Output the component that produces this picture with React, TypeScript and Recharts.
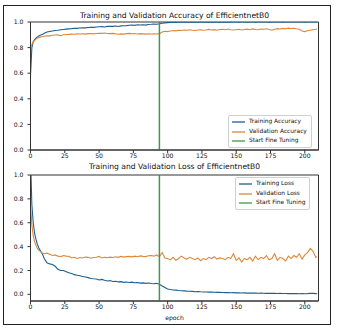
import React from "react";
import { LineChart, Line, XAxis, YAxis, ReferenceLine, ReferenceArea } from "recharts";

// epochs sampled: every epoch for the first 10, then every 2nd
const epochs = [
  0, 1, 2, 3, 4, 5, 6, 7, 8, 9,
  10, 12, 14, 16, 18, 20, 22, 24, 26, 28,
  30, 32, 34, 36, 38, 40, 42, 44, 46, 48,
  50, 52, 54, 56, 58, 60, 62, 64, 66, 68,
  70, 72, 74, 76, 78, 80, 82, 84, 86, 88,
  90, 92, 94, 96, 98, 100, 102, 104, 106, 108,
  110, 112, 114, 116, 118, 120, 122, 124, 126, 128,
  130, 132, 134, 136, 138, 140, 142, 144, 146, 148,
  150, 152, 154, 156, 158, 160, 162, 164, 166, 168,
  170, 172, 174, 176, 178, 180, 182, 184, 186, 188,
  190, 192, 194, 196, 198, 200, 202, 204, 206, 208,
  209,
];

const trainAcc = [
  0.58, 0.8, 0.845, 0.862, 0.874, 0.884, 0.89, 0.896, 0.9, 0.905,
  0.912, 0.922, 0.926, 0.93, 0.933, 0.936, 0.94, 0.942, 0.944, 0.946,
  0.948, 0.951, 0.95, 0.953, 0.955, 0.954, 0.957, 0.959, 0.958, 0.961,
  0.963, 0.964, 0.961, 0.966, 0.967, 0.966, 0.969, 0.965, 0.97, 0.971,
  0.972, 0.975, 0.976, 0.974, 0.978, 0.977, 0.979, 0.976, 0.981, 0.982,
  0.984, 0.983, 0.986, 0.99, 0.993, 0.995, 0.996, 0.997, 0.997, 0.998,
  0.998, 0.998, 0.999, 0.999, 0.999, 0.998, 0.999, 0.999, 0.999, 0.999,
  0.999, 0.999, 0.999, 0.999, 1.0, 0.999, 0.999, 1.0, 0.999, 1.0,
  1.0, 0.999, 1.0, 1.0, 0.999, 1.0, 1.0, 0.999, 1.0, 1.0,
  1.0, 1.0, 0.999, 1.0, 1.0, 1.0, 1.0, 0.999, 1.0, 1.0,
  1.0, 1.0, 1.0, 1.0, 1.0, 0.999, 1.0, 1.0, 1.0, 1.0,
  1.0,
];

const valAcc = [
  0.8, 0.825, 0.845, 0.857, 0.866, 0.873, 0.878, 0.882, 0.885, 0.887,
  0.889, 0.893, 0.892, 0.896, 0.898, 0.899, 0.893, 0.9, 0.902, 0.903,
  0.905, 0.904, 0.907, 0.906, 0.908, 0.905, 0.909, 0.91, 0.907, 0.91,
  0.912, 0.911, 0.914, 0.91, 0.909, 0.911, 0.908, 0.904, 0.907, 0.905,
  0.909, 0.911, 0.908, 0.91, 0.906, 0.909, 0.907, 0.905, 0.908, 0.906,
  0.908, 0.906, 0.909, 0.922, 0.928, 0.925, 0.93, 0.933, 0.931, 0.936,
  0.934, 0.937, 0.935, 0.939, 0.936, 0.934, 0.938, 0.94, 0.936, 0.938,
  0.942, 0.937, 0.94, 0.936, 0.941, 0.943, 0.939, 0.945, 0.94, 0.937,
  0.94, 0.943, 0.938, 0.942, 0.944, 0.94, 0.946, 0.942, 0.939, 0.945,
  0.943, 0.947, 0.941, 0.936, 0.944, 0.948, 0.945, 0.95, 0.947, 0.952,
  0.949, 0.951, 0.947, 0.944, 0.93, 0.925, 0.932, 0.936, 0.94, 0.943,
  0.946,
];

const trainLoss = [
  1.15, 0.75, 0.6, 0.51, 0.46, 0.42, 0.39, 0.37, 0.35, 0.33,
  0.3, 0.265, 0.255, 0.25, 0.235, 0.21, 0.2, 0.2, 0.19, 0.18,
  0.175, 0.165, 0.16, 0.155, 0.15, 0.145, 0.14, 0.133, 0.13, 0.128,
  0.12, 0.125, 0.118, 0.112, 0.115, 0.108, 0.11, 0.104, 0.106, 0.1,
  0.103, 0.099, 0.102, 0.097, 0.099, 0.094, 0.096, 0.092, 0.095, 0.09,
  0.088, 0.092, 0.085, 0.07, 0.058, 0.045, 0.04, 0.036, 0.035, 0.032,
  0.03, 0.029, 0.027, 0.026, 0.025, 0.022, 0.024, 0.021, 0.02, 0.019,
  0.018, 0.019, 0.017, 0.016, 0.017, 0.015, 0.014, 0.015, 0.013, 0.014,
  0.012, 0.013, 0.011, 0.012, 0.01, 0.011, 0.01, 0.01, 0.009, 0.01,
  0.009, 0.008, 0.009, 0.008, 0.008, 0.007, 0.008, 0.007, 0.007, 0.006,
  0.007, 0.006, 0.006, 0.005, 0.006, 0.005, 0.006, 0.009, 0.008, 0.006,
  0.005,
];

const valLoss = [
  0.75, 0.58, 0.49, 0.44, 0.41, 0.385, 0.37, 0.36, 0.35, 0.345,
  0.34, 0.345, 0.335, 0.325, 0.33, 0.32, 0.315, 0.325, 0.32, 0.318,
  0.305, 0.31, 0.3, 0.308, 0.305, 0.312, 0.31, 0.302, 0.308, 0.311,
  0.318, 0.305, 0.31, 0.307, 0.312, 0.309, 0.315, 0.31, 0.318, 0.312,
  0.316, 0.318, 0.314, 0.32, 0.315, 0.322, 0.318, 0.316, 0.323, 0.325,
  0.32, 0.33, 0.315, 0.35, 0.305, 0.3, 0.29, 0.31, 0.285, 0.3,
  0.32, 0.305, 0.295, 0.31, 0.3, 0.29, 0.305, 0.282, 0.3, 0.29,
  0.31, 0.3, 0.315, 0.295, 0.305, 0.3, 0.29, 0.31, 0.3, 0.34,
  0.285, 0.305, 0.27, 0.3, 0.29, 0.31, 0.28, 0.32, 0.29, 0.31,
  0.3, 0.325, 0.29, 0.3, 0.34, 0.285, 0.31, 0.3, 0.28, 0.32,
  0.3, 0.325, 0.31, 0.34, 0.295, 0.33, 0.35, 0.385, 0.36, 0.31,
  0.315,
];

const xTicks = [0, 25, 50, 75, 100, 125, 150, 175, 200];
const yTicks = [0, 0.2, 0.4, 0.6, 0.8, 1.0];
const fineTuneEpoch = 94;

const accTitle = "Training and Validation Accuracy of EfficientnetB0";
const lossTitle = "Training and Validation Loss of EfficientnetB0";
const accLegend = ["Training Accuracy", "Validation Accuracy", "Start Fine Tuning"];
const lossLegend = ["Training Loss", "Validation Loss", "Start Fine Tuning"];

const BLUE = "#1f5f8e";
const ORANGE = "#de873a";
const GREEN = "#3f9a48";
const FONT = "DejaVu Sans, sans-serif";

const data = epochs.map((e, i) => ({
  epoch: e,
  trainAcc: trainAcc[i],
  valAcc: valAcc[i],
  trainLoss: trainLoss[i],
  valLoss: valLoss[i],
}));

const tickStyle = { fontSize: 6.1, fill: "#111", fontFamily: FONT };

function LegendBox({ labels, left, top }: { labels: string[]; left: number; top: number }) {
  const colors = [BLUE, ORANGE, GREEN];
  return (
    <div
      style={{
        position: "absolute",
        left,
        top,
        background: "#fff",
        border: "1px solid #d0d0d0",
        borderRadius: 2,
        padding: "1px 4px 1px 3px",
        fontFamily: FONT,
        fontSize: 5.9,
        color: "#111",
        lineHeight: "9.7px",
      }}
    >
      {labels.map((l, i) => (
        <div key={l} style={{ display: "flex", alignItems: "center", whiteSpace: "nowrap" }}>
          <svg width={13} height={6} style={{ marginRight: 4, display: "block" }}>
            <line x1={0} x2={13} y1={3} y2={3} stroke={colors[i]} strokeWidth={1.3} />
          </svg>
          {l}
        </div>
      ))}
    </div>
  );
}

function Panel({
  top,
  height,
  marginTop,
  marginBottom,
  yDomain,
  trainKey,
  valKey,
}: {
  top: number;
  height: number;
  marginTop: number;
  marginBottom: number;
  yDomain: [number, number];
  trainKey: string;
  valKey: string;
}) {
  return (
    <div style={{ position: "absolute", left: 0, top }}>
      <LineChart
        width={338}
        height={height}
        data={data}
        margin={{ top: marginTop, right: 19.5, bottom: marginBottom, left: 0 }}
      >
        <XAxis
          dataKey="epoch"
          type="number"
          domain={[0, 210]}
          ticks={xTicks}
          tick={tickStyle}
          tickSize={3}
          tickMargin={1}
          axisLine={{ stroke: "#333" }}
          tickLine={{ stroke: "#333" }}
          height={20}
        />
        <YAxis
          type="number"
          domain={yDomain}
          allowDataOverflow
          ticks={yTicks}
          tickFormatter={(v: number) => v.toFixed(1)}
          tick={tickStyle}
          tickSize={3}
          tickMargin={4}
          axisLine={{ stroke: "#333" }}
          tickLine={{ stroke: "#333" }}
          width={30.5}
        />
        <ReferenceArea
          x1={0}
          x2={210}
          y1={yDomain[0]}
          y2={yDomain[1]}
          fill="none"
          stroke="#333"
          strokeWidth={1}
        />
        <Line
          type="linear"
          dataKey={trainKey}
          stroke={BLUE}
          strokeWidth={1.1}
          dot={false}
          isAnimationActive={false}
        />
        <Line
          type="linear"
          dataKey={valKey}
          stroke={ORANGE}
          strokeWidth={1.1}
          dot={false}
          isAnimationActive={false}
        />
        <ReferenceLine x={fineTuneEpoch} stroke={GREEN} strokeWidth={1.5} />
      </LineChart>
    </div>
  );
}

export default function App() {
  const titleStyle: React.CSSProperties = {
    position: "absolute",
    left: 30.5,
    width: 288,
    textAlign: "center",
    fontFamily: FONT,
    fontSize: 7.6,
    color: "#111",
    lineHeight: "9px",
    whiteSpace: "nowrap",
  };
  return (
    <div
      style={{
        position: "absolute",
        left: 0,
        top: 0,
        width: 338,
        height: 332,
        background: "#fff",
        overflow: "hidden",
      }}
    >
      <div
        style={{
          position: "absolute",
          left: 3,
          top: 5,
          width: 328,
          height: 320,
          border: "1.5px solid #222",
          boxSizing: "border-box",
        }}
      />
      <div style={{ ...titleStyle, top: 10.5 }}>{accTitle}</div>
      <Panel
        top={0}
        height={170}
        marginTop={22}
        marginBottom={0}
        yDomain={[0, 1]}
        trainKey="trainAcc"
        valKey="valAcc"
      />
      <LegendBox labels={accLegend} left={228} top={115} />

      <div style={{ ...titleStyle, top: 161.5 }}>{lossTitle}</div>
      <Panel
        top={150}
        height={182}
        marginTop={25}
        marginBottom={11}
        yDomain={[-0.056, 1]}
        trainKey="trainLoss"
        valKey="valLoss"
      />
      <LegendBox labels={lossLegend} left={235} top={177} />
      <div
        style={{
          position: "absolute",
          left: 30.5,
          width: 288,
          top: 314,
          textAlign: "center",
          fontFamily: FONT,
          fontSize: 6.1,
          color: "#111",
          lineHeight: "8px",
        }}
      >
        epoch
      </div>
    </div>
  );
}
